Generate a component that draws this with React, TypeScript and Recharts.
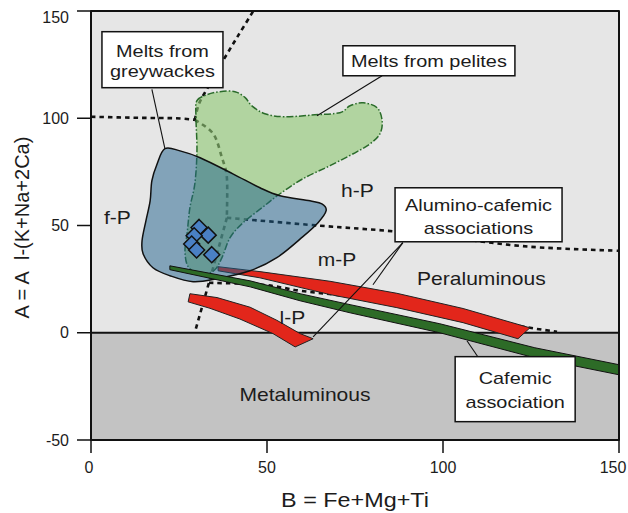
import React from 'react';
import { ScatterChart, Scatter, XAxis, YAxis } from 'recharts';

type Pt = { x: number; y: number };

// ---------- axes ----------
const xTicks = [0, 50, 100, 150];
const yTicks = [-50, 0, 50, 100, 150];
const xAxisTitle = 'B = Fe+Mg+Ti';
const yAxisTitle = 'A = A\u00a0\u00a0l-(K+Na+2Ca)';

// ---------- fields ----------
const peraluminousField: Pt[] = [
  { x: 0, y: 0 }, { x: 150, y: 0 }, { x: 150, y: 150 }, { x: 0, y: 150 },
];
const metaluminousField: Pt[] = [
  { x: 0, y: -50 }, { x: 150, y: -50 }, { x: 150, y: 0 }, { x: 0, y: 0 },
];
const plotFrame: Pt[] = [
  { x: 0, y: -50 }, { x: 150, y: -50 }, { x: 150, y: 150 }, { x: 0, y: 150 },
];
const zeroLine: Pt[] = [{ x: 0, y: 0 }, { x: 150, y: 0 }];

// ---------- dotted boundaries ----------
const boundaryTop: Pt[] = [
  { x: 46.0, y: 149.7 }, { x: 41.8, y: 138.5 }, { x: 37.5, y: 126.8 },
  { x: 33.0, y: 113.8 }, { x: 30.7, y: 106.8 }, { x: 29.5, y: 99.3 },
];
const boundaryLeft: Pt[] = [
  { x: 0, y: 100.7 }, { x: 13.9, y: 100.2 }, { x: 23.9, y: 100.0 }, { x: 29.5, y: 99.3 },
];
const boundaryCurve: Pt[] = [
  { x: 29.5, y: 99.3 }, { x: 34.7, y: 92.8 }, { x: 37.2, y: 81.6 }, { x: 38.6, y: 72.3 },
  { x: 38.6, y: 53.6 },
];
const boundaryFP: Pt[] = [
  { x: 38.6, y: 53.6 }, { x: 34.1, y: 26.8 }, { x: 29.5, y: 0.2 },
];
const boundaryHP: Pt[] = [
  { x: 38.6, y: 53.6 }, { x: 65.1, y: 49.9 }, { x: 85.8, y: 47.3 }, { x: 102.0, y: 44.3 },
  { x: 124.7, y: 40.1 }, { x: 150, y: 38.2 },
];
const boundaryLP: Pt[] = [
  { x: 33.5, y: 23.3 }, { x: 48.6, y: 22.4 }, { x: 59.4, y: 19.6 }, { x: 71.6, y: 17.2 },
  { x: 90.6, y: 12.1 }, { x: 110.5, y: 6.5 }, { x: 124.7, y: 2.3 }, { x: 132.4, y: 0.5 },
];

// ---------- melt fields ----------
const peliteMelts: Pt[] = [
  { x: 30.1, y: 108.2 }, { x: 33.0, y: 111.0 }, { x: 36.6, y: 112.4 }, { x: 40.9, y: 112.4 },
  { x: 43.8, y: 109.6 }, { x: 45.7, y: 105.8 }, { x: 49.4, y: 102.1 }, { x: 55.1, y: 100.7 },
  { x: 63.6, y: 101.6 }, { x: 70.7, y: 102.6 }, { x: 73.6, y: 105.8 }, { x: 77.3, y: 107.2 },
  { x: 81.3, y: 104.9 }, { x: 82.7, y: 98.8 }, { x: 82.1, y: 92.8 }, { x: 79.3, y: 88.1 },
  { x: 75.0, y: 83.9 }, { x: 67.9, y: 77.9 }, { x: 60.2, y: 71.8 }, { x: 53.7, y: 64.8 },
  { x: 48.6, y: 58.3 }, { x: 43.2, y: 51.3 }, { x: 39.5, y: 44.3 }, { x: 37.2, y: 35.0 },
  { x: 34.9, y: 28.9 }, { x: 31.0, y: 27.5 }, { x: 27.6, y: 30.8 }, { x: 26.7, y: 38.2 },
  { x: 27.3, y: 46.2 }, { x: 28.1, y: 58.3 }, { x: 29.5, y: 69.5 }, { x: 30.1, y: 84.8 },
  { x: 29.8, y: 101.2 },
];
const greywackeMelts: Pt[] = [
  { x: 21.0, y: 85.8 }, { x: 25.3, y: 84.8 }, { x: 31.0, y: 81.6 }, { x: 40.3, y: 74.1 },
  { x: 48.0, y: 67.6 }, { x: 53.7, y: 63.9 }, { x: 62.2, y: 61.5 }, { x: 65.6, y: 60.1 },
  { x: 66.8, y: 56.9 }, { x: 64.5, y: 51.3 }, { x: 60.2, y: 44.8 }, { x: 52.8, y: 35.0 },
  { x: 45.2, y: 28.9 }, { x: 35.8, y: 25.2 }, { x: 29.0, y: 23.8 }, { x: 22.4, y: 26.6 },
  { x: 17.6, y: 30.3 }, { x: 14.8, y: 36.8 }, { x: 14.5, y: 42.9 }, { x: 15.6, y: 52.2 },
  { x: 16.8, y: 61.5 }, { x: 17.3, y: 70.9 }, { x: 18.8, y: 78.8 },
];

// ---------- association trends ----------
const aluminoCafemicUpper: Pt[] = [
  { x: 36.1, y: 30.8 }, { x: 48.0, y: 28.5 }, { x: 67.9, y: 24.0 }, { x: 86.9, y: 18.4 },
  { x: 105.7, y: 11.3 }, { x: 124.7, y: 2.3 }, { x: 121.3, y: -2.8 }, { x: 105.7, y: 4.7 },
  { x: 86.9, y: 11.7 }, { x: 67.9, y: 17.8 }, { x: 48.0, y: 25.6 }, { x: 36.1, y: 28.9 },
];
const aluminoCafemicLower: Pt[] = [
  { x: 28.1, y: 18.2 }, { x: 35.8, y: 16.4 }, { x: 45.2, y: 11.9 }, { x: 52.8, y: 5.8 },
  { x: 59.4, y: -0.4 }, { x: 63.1, y: -2.8 }, { x: 58.0, y: -6.6 }, { x: 51.7, y: -0.4 },
  { x: 42.3, y: 6.4 }, { x: 33.8, y: 11.4 }, { x: 27.6, y: 14.4 },
];
const cafemicBand: Pt[] = [
  { x: 22.4, y: 31.2 }, { x: 45.2, y: 24.2 }, { x: 59.4, y: 18.2 }, { x: 73.6, y: 13.1 },
  { x: 99.1, y: 4.2 }, { x: 126.1, y: -7.0 }, { x: 150, y: -14.9 },
  { x: 150, y: -19.6 }, { x: 126.1, y: -11.7 }, { x: 99.1, y: 0 }, { x: 73.6, y: 9.3 },
  { x: 59.4, y: 14.9 }, { x: 45.2, y: 21.4 }, { x: 22.4, y: 29.4 },
];

// ---------- samples ----------
const samples: Pt[] = [
  { x: 30.7, y: 49.1 }, { x: 33.3, y: 45.5 }, { x: 29.3, y: 45.2 },
  { x: 28.6, y: 41.4 }, { x: 30.0, y: 38.6 }, { x: 34.3, y: 36.4 },
];

// ---------- annotations ----------
const regionLabels = [
  { x: 7.5, y: 50.8, text: 'f-P' },
  { x: 75.7, y: 63.1, text: 'h-P' },
  { x: 69.9, y: 31.0, text: 'm-P' },
  { x: 57.2, y: 4.2, text: 'l-P' },
  { x: 110.9, y: 22.4, text: 'Peraluminous' },
  { x: 60.8, y: -32.0, text: 'Metaluminous' },
];
const callouts = [
  { key: 'greywacke', x: 20.3, y: 127.3, lines: ['Melts from', 'greywackes'] },
  { key: 'pelite', x: 96.0, y: 126.8, lines: ['Melts from pelites'] },
  { key: 'alumino', x: 110.1, y: 55.0, lines: ['Alumino-cafemic', 'associations'] },
  { key: 'cafemic', x: 120.5, y: -26.3, lines: ['Cafemic', 'association'] },
];
const leaderGreywacke: Pt[] = [{ x: 17.3, y: 113.5 }, { x: 21.0, y: 85.8 }];
const leaderPelite: Pt[] = [{ x: 82.7, y: 119.8 }, { x: 64.2, y: 101.2 }];
const leaderAluminoA: Pt[] = [{ x: 88.6, y: 42.0 }, { x: 80.1, y: 22.4 }];
const leaderAluminoB: Pt[] = [{ x: 88.6, y: 42.0 }, { x: 63.1, y: -1.9 }];
const leaderCafemic: Pt[] = [{ x: 109.9, y: -11.2 }, { x: 106.8, y: -3.7 }];

// ---------- rendering helpers ----------
const FONT = '"Liberation Sans", Arial, Helvetica, sans-serif';
const SX = 1.17;
const INK = '#1c1c1c';

const boxLayout: Record<string, { w: number; h: number; first: number; lh: number }> = {
  greywacke: { w: 121, h: 56, first: -3, lh: 20.5 },
  pelite: { w: 172, h: 30, first: 6, lh: 0 },
  alumino: { w: 167, h: 54, first: -4, lh: 23 },
  cafemic: { w: 120, h: 65, first: -5.5, lh: 24 },
};

function SText(p: { x: number; y: number; size: number; anchor?: string; children: any }) {
  return (
    <text
      transform={`translate(${p.x},${p.y}) scale(${SX},1)`}
      x={0}
      y={0}
      textAnchor={(p.anchor || 'middle') as any}
      fontSize={p.size}
      fontFamily={FONT}
      fill={INK}
    >
      {p.children}
    </text>
  );
}

function smoothPath(pts: Pt[], closed: boolean): string {
  const n = pts.length;
  if (n < 2) return '';
  const get = (i: number) => (closed ? pts[(i + n) % n] : pts[Math.max(0, Math.min(n - 1, i))]);
  let d = `M${pts[0].x},${pts[0].y}`;
  const segs = closed ? n : n - 1;
  for (let i = 0; i < segs; i++) {
    const p0 = get(i - 1), p1 = get(i), p2 = get(i + 1), p3 = get(i + 2);
    const c1x = p1.x + (p2.x - p0.x) / 6, c1y = p1.y + (p2.y - p0.y) / 6;
    const c2x = p2.x - (p3.x - p1.x) / 6, c2y = p2.y - (p3.y - p1.y) / 6;
    d += ` C${c1x},${c1y} ${c2x},${c2y} ${p2.x},${p2.y}`;
  }
  if (closed) d += ' Z';
  return d;
}
function polyPath(pts: Pt[], closed: boolean): string {
  if (!pts.length) return '';
  return 'M' + pts.map((p) => `${p.x},${p.y}`).join(' L') + (closed ? ' Z' : '');
}

type LineStyle = {
  smooth?: boolean; closed?: boolean; fill?: string; fillOpacity?: number;
  stroke?: string; strokeWidth?: number; dash?: string; cap?: string;
};
const pathRenderer = (st: LineStyle) => (props: any) => {
  const pts: Pt[] = (props.points || [])
    .filter((p: any) => p && p.x != null && p.y != null)
    .map((p: any) => ({ x: p.x, y: p.y }));
  const d = st.smooth ? smoothPath(pts, !!st.closed) : polyPath(pts, !!st.closed);
  return (
    <path
      d={d}
      fill={st.fill ?? 'none'}
      fillOpacity={st.fillOpacity ?? 1}
      stroke={st.stroke ?? 'none'}
      strokeWidth={st.strokeWidth ?? 1}
      strokeDasharray={st.dash}
      strokeLinejoin="round"
      strokeLinecap={(st.cap || 'butt') as any}
    />
  );
};
const hiddenPoint = () => <g />;

function series(key: string, data: Pt[], st: LineStyle) {
  return (
    <Scatter
      key={key}
      name={key}
      data={data}
      line={pathRenderer(st) as any}
      lineType="joint"
      shape={hiddenPoint as any}
      isAnimationActive={false}
      legendType="none"
    />
  );
}

const dotted: LineStyle = { smooth: true, stroke: '#111', strokeWidth: 2.6, dash: '4.5 4' };

const diamondShape = (props: any) => {
  const { cx, cy } = props;
  const r = 8;
  return (
    <polygon
      points={`${cx},${cy - r} ${cx + r},${cy} ${cx},${cy + r} ${cx - r},${cy}`}
      fill="#4a80c4"
      stroke="#111"
      strokeWidth={1.5}
      strokeLinejoin="miter"
    />
  );
};
const regionLabelShape = (props: any) => {
  const { cx, cy, payload } = props;
  return <SText x={cx} y={cy} size={18}>{payload.text}</SText>;
};
const calloutShape = (props: any) => {
  const { cx, cy, payload } = props;
  const L = boxLayout[payload.key];
  return (
    <g>
      <rect x={cx - L.w / 2} y={cy - L.h / 2} width={L.w} height={L.h} fill="#fff" stroke="#111" strokeWidth={1.5} />
      {payload.lines.map((t: string, i: number) => (
        <SText key={i} x={cx} y={cy + L.first + i * L.lh} size={17}>{t}</SText>
      ))}
    </g>
  );
};

const XTick = (props: any) => {
  const { x, y, payload, index } = props;
  const last = index === xTicks.length - 1 || payload.value === xTicks[xTicks.length - 1];
  const first = payload.value === xTicks[0];
  const dx = last ? -6 : first ? -2 : 0;
  return (
    <text x={x + dx} y={y + 18} textAnchor="middle" fontSize={16} fontFamily={FONT} fill={INK}>
      {payload.value}
    </text>
  );
};
const YTick = (props: any) => {
  const { x, y, payload } = props;
  const dy = payload.value === 150 ? 12 : 5.5;
  return (
    <text x={x - 6} y={y + dy} textAnchor="end" fontSize={16} fontFamily={FONT} fill={INK}>
      {payload.value}
    </text>
  );
};
const XTitle = (props: any) => {
  const vb = props.viewBox || { x: 91, y: 440, width: 528, height: 73 };
  return <SText x={vb.x + vb.width / 2} y={vb.y + 67} size={20}>{xAxisTitle}</SText>;
};
const YTitle = (props: any) => {
  const vb = props.viewBox || { x: 0, y: 11, width: 91, height: 429 };
  const cx = vb.x + 29;
  const cy = vb.y + vb.height / 2 + 2;
  return (
    <text
      transform={`translate(${cx},${cy}) rotate(-90)`}
      textAnchor="middle"
      fontSize={20}
      fontFamily={FONT}
      fill={INK}
      style={{ whiteSpace: 'pre' }}
    >
      {yAxisTitle}
    </text>
  );
};

export default function App() {
  return (
    <div style={{ position: 'absolute', left: 0, top: 0, width: 628, height: 513, background: '#fff' }}>
      <ScatterChart width={628} height={513} margin={{ top: 11, right: 9, bottom: 0, left: 0 }}>
        <XAxis
          type="number"
          dataKey="x"
          domain={[0, 150]}
          ticks={xTicks}
          interval={0}
          axisLine={false}
          tickLine={{ stroke: '#111', strokeWidth: 1.5 }}
          tickSize={13}
          tick={<XTick />}
          height={73}
          label={{ content: <XTitle /> } as any}
        />
        <YAxis
          type="number"
          dataKey="y"
          domain={[-50, 150]}
          ticks={yTicks}
          interval={0}
          axisLine={false}
          tickLine={{ stroke: '#111', strokeWidth: 1.5 }}
          tickSize={14}
          tick={<YTick />}
          width={91}
          label={{ content: <YTitle /> } as any}
        />
        {series('peraluminous', peraluminousField, { closed: true, fill: '#e6e6e6' })}
        {series('metaluminous', metaluminousField, { closed: true, fill: '#c3c3c3' })}
        {series('zero', zeroLine, { stroke: '#111', strokeWidth: 2.2 })}
        {series('bTop', boundaryTop, dotted)}
        {series('bLeft', boundaryLeft, dotted)}
        {series('bCurve', boundaryCurve, dotted)}
        {series('bFP', boundaryFP, dotted)}
        {series('bHP', boundaryHP, dotted)}
        {series('bLP', boundaryLP, dotted)}
        {series('pelites', peliteMelts, {
          smooth: true, closed: true, fill: '#8fc875', fillOpacity: 0.62,
          stroke: '#2a6b2a', strokeWidth: 1.5, dash: '7 2 1.5 2',
        })}
        {series('acUpper', aluminoCafemicUpper, { closed: true, fill: '#e2261b', stroke: '#222', strokeWidth: 1 })}
        {series('acLower', aluminoCafemicLower, { closed: true, fill: '#e2261b', stroke: '#222', strokeWidth: 1 })}
        {series('greywackes', greywackeMelts, {
          smooth: true, closed: true, fill: '#1e5f8c', fillOpacity: 0.5,
          stroke: '#111', strokeWidth: 1.5,
        })}
        {series('cafemic', cafemicBand, { closed: true, fill: '#2d6b27', stroke: '#111', strokeWidth: 1 })}
        <Scatter data={samples} shape={diamondShape as any} isAnimationActive={false} legendType="none" />
        {series('lGrey', leaderGreywacke, { stroke: '#111', strokeWidth: 1.1 })}
        {series('lPel', leaderPelite, { stroke: '#111', strokeWidth: 1.1 })}
        {series('lAlA', leaderAluminoA, { stroke: '#111', strokeWidth: 1.1 })}
        {series('lAlB', leaderAluminoB, { stroke: '#111', strokeWidth: 1.1 })}
        {series('lCaf', leaderCafemic, { stroke: '#111', strokeWidth: 1.1 })}
        <Scatter data={regionLabels} shape={regionLabelShape as any} isAnimationActive={false} legendType="none" />
        <Scatter data={callouts} shape={calloutShape as any} isAnimationActive={false} legendType="none" />
        {series('frame', plotFrame, { closed: true, stroke: '#111', strokeWidth: 2 })}
      </ScatterChart>
    </div>
  );
}
